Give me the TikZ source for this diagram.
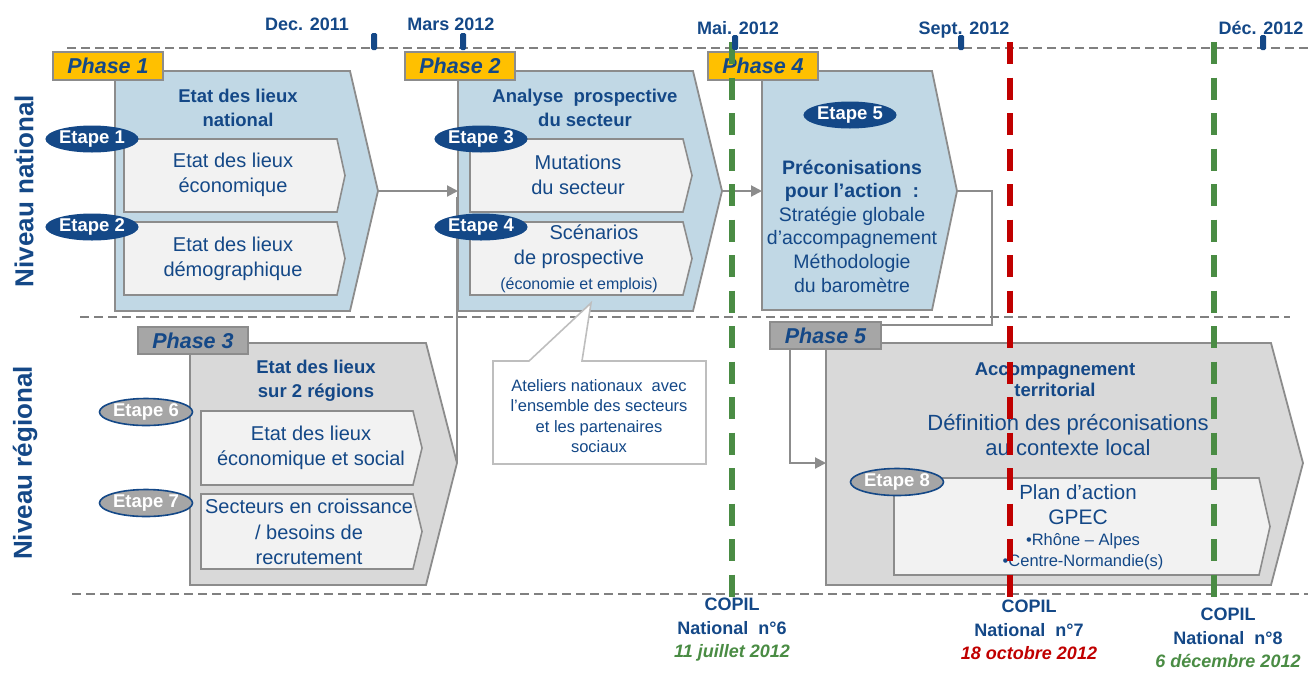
\documentclass[tikz,border=0pt]{standalone}
\usepackage{fontspec}
\setmainfont{Liberation Sans}
\usetikzlibrary{arrows.meta,shapes.geometric}
\definecolor{dblue}{RGB}{20,72,135}
\definecolor{lblue}{RGB}{193,216,229}
\definecolor{boxgray}{RGB}{242,242,242}
\definecolor{phgray}{RGB}{217,217,217}
\definecolor{tagyellow}{RGB}{255,192,0}
\definecolor{taggray}{RGB}{166,166,166}
\definecolor{edgegray}{RGB}{140,140,140}
\definecolor{dashgray}{RGB}{128,128,128}
\definecolor{callgray}{RGB}{190,190,190}
\definecolor{dgreen}{RGB}{74,140,68}
\definecolor{dred}{RGB}{192,0,0}
\newcommand\myfs[2]{\fontsize{#1}{#2}\selectfont}
\begin{document}
\begin{tikzpicture}[x=1pt,y=-1pt,
  shapeedge/.style={draw=edgegray, line width=1.8pt, line join=miter},
  natshape/.style={shapeedge, fill=lblue},
  regshape/.style={shapeedge, fill=phgray},
  subshape/.style={shapeedge, fill=boxgray, line width=1.6pt},
  tagbox/.style={draw=edgegray, line width=1.6pt, minimum width=110pt, minimum height=28pt, inner sep=0pt, text=dblue, font=\bfseries\itshape\myfs{21.5}{24}},
  ytag/.style={tagbox, fill=tagyellow},
  gtag/.style={tagbox, fill=taggray},
  etape/.style={ellipse, fill=dblue, minimum width=93pt, minimum height=27pt, inner sep=0pt, text=white, font=\bfseries\myfs{18.5}{20}},
  etapegray/.style={etape, fill=taggray, draw=dblue, line width=1.6pt},
  titletext/.style={text=dblue, font=\bfseries\myfs{18.5}{24}, align=center, inner sep=0pt},
  bodytext/.style={text=dblue, font=\myfs{20}{25.5}, align=center, inner sep=0pt},
  datetext/.style={text=dblue, font=\bfseries\myfs{18}{20}, text height=13pt, text depth=0pt, inner sep=0pt},
  copiltext/.style={text=dblue, font=\bfseries\myfs{18}{23.5}, align=center, inner sep=0pt},
  niveau/.style={text=dblue, font=\bfseries\myfs{26}{30}, rotate=90, inner sep=0pt},
  conn/.style={draw=edgegray, line width=2pt},
  arr/.style={conn, -{Triangle[length=11pt,width=11pt]}},
  hdash/.style={draw=dashgray, line width=2.3pt, dash pattern=on 9pt off 5pt},
  vgreen/.style={draw=dgreen, line width=6pt, dash pattern=on 22pt off 13.5pt},
  vred/.style={draw=dred, line width=6pt, dash pattern=on 22pt off 13.5pt},
  tickmark/.style={fill=dblue, rounded corners=1.5pt}
]
\useasboundingbox (0,0) rectangle (1308,673);

% coordinates
\coordinate (p1tip) at (378,191);
\coordinate (p2left) at (458,191);
\coordinate (p2join) at (457,197);
\coordinate (p2tip) at (722,191);
\coordinate (p3tip) at (457,463);
\coordinate (p4left) at (762,191);
\coordinate (p4tip) at (957,191);
\coordinate (c5) at (992,325);
\coordinate (ph5hook) at (882,325);
\coordinate (t5) at (790,349);
\coordinate (p5left) at (826,463);

% horizontal dashed lines
\draw[hdash] (67,48) -- (1308,48);
\draw[hdash] (80,317) -- (1290,317);
\draw[hdash] (72,594) -- (1308,594);

% level labels
\node[niveau] (nnat) at (24,191) {Niveau national};
\node[niveau] (nreg) at (25,463) {Niveau régional};

% dates
\node[datetext] (d1) at (307,24) {Dec. 2011};
\node[datetext] (d2) at (451,24) {Mars 2012};
\node[datetext] (d3) at (738,28) {Mai. 2012};
\node[datetext] (d4) at (964,28) {Sept. 2012};
\node[datetext] (d5) at (1261,28) {Déc. 2012};

% Phase 1
\draw[natshape] (115,71) -- (350,71) -- (p1tip) -- (350,311) -- (115,311) -- cycle;
\draw[subshape] (124,139) -- (337,139) -- (345,175.5) -- (337,212) -- (124,212) -- cycle;
\draw[subshape] (124,222) -- (337,222) -- (345,258.5) -- (337,295) -- (124,295) -- cycle;
\node[titletext] (t1) at (238,108) {Etat des lieux\\national};
\node[bodytext] (s1) at (233,175) {Etat des lieux\\économique};
\node[bodytext] (s2) at (233,259) {Etat des lieux\\démographique};

% Phase 2
\draw[natshape] (458,71) -- (693,71) -- (p2tip) -- (693,311) -- (458,311) -- cycle;
\draw[subshape] (470,139) -- (683,139) -- (692,175.5) -- (683,212) -- (470,212) -- cycle;
\draw[subshape] (470,222) -- (683,222) -- (692,258.5) -- (683,295) -- (470,295) -- cycle;
\node[titletext] (t2) at (585,108) {Analyse~ prospective\\du secteur};
\node[bodytext] (s3) at (578,175) {Mutations\\du secteur};
\node[bodytext, font=\myfs{20}{25}] (s4) at (579,259) {\hspace*{30pt}Scénarios\\de prospective\\{\myfs{16}{21}(économie et emplois)}};

% Phase 3
\draw[regshape] (190,343) -- (426,343) -- (p3tip) -- (426,585) -- (190,585) -- cycle;
\draw[subshape] (201,411) -- (413,411) -- (422,448) -- (413,485) -- (201,485) -- cycle;
\draw[subshape] (201,494) -- (413,494) -- (422,531.5) -- (413,569) -- (201,569) -- cycle;
\node[titletext] (t3) at (316,381) {Etat des lieux\\sur 2 régions};
\node[bodytext] (s6) at (311,448) {Etat des lieux\\économique et social};
\node[bodytext] (s7) at (309,532) {Secteurs en croissance\\/ besoins de\\recrutement};

% Phase 4
\draw[natshape] (762,71) -- (932,71) -- (p4tip) -- (932,310) -- (762,310) -- cycle;
\node[bodytext, font=\myfs{19.5}{23.6}] (s5) at (852,226) {{\bfseries Préconisations}\\{\bfseries pour l'action~ :}\\Stratégie globale\\d'accompagnement\\Méthodologie\\du baromètre};

% Phase 5
\draw[regshape] (826,343) -- (1271,343) -- (1303,463) -- (1271,585) -- (826,585) -- cycle;
\draw[subshape] (894,478) -- (1259,478) -- (1270,526.5) -- (1259,575) -- (894,575) -- cycle;
\node[titletext, font=\bfseries\myfs{18.5}{21}] (t5txt) at (1055,380) {Accompagnement\\territorial};
\node[bodytext, font=\myfs{22}{25}] (def5) at (1068,435) {Définition des préconisations\\au contexte local};
\node[bodytext, font=\myfs{20.5}{25}] (s8a) at (1078,505) {Plan d'action\\{\myfs{21}{25}GPEC}};
\node[bodytext, font=\myfs{16.5}{21}] (s8b) at (1083,551.5) {•Rhône – Alpes\\•Centre-Normandie(s)};

% callout
\draw[draw=callgray, line width=1.6pt, fill=white, line join=miter] (493,361) -- (529,361) -- (591,303) -- (582,361) -- (706,361) -- (706,464) -- (493,464) -- cycle;
\node[text=dblue, font=\myfs{16.5}{20.5}, align=center, inner sep=0pt] (atel) at (599,416) {Ateliers nationaux~ avec\\l’ensemble des secteurs\\et les partenaires\\sociaux};

% connectors
\draw[arr] (p1tip) -- (p2left);
\draw[conn] (p3tip) -- (p2join);
\draw[arr] (p2tip) -- (p4left);
\draw[conn] (p4tip) -| (c5) -- (ph5hook);
\draw[arr] (t5) |- (p5left);

% phase tags
\node[ytag] (ph1) at (108,66) {Phase 1};
\node[ytag] (ph2) at (460,66) {Phase 2};
\node[ytag] (ph4) at (763,66) {Phase 4};
\node[gtag, minimum height=27pt] (ph3) at (193,340.5) {Phase 3};
\node[gtag, minimum height=27pt, minimum width=111pt] (ph5) at (825.5,335.5) {Phase 5};

% etapes
\node[etape] (e1) at (92,139) {Etape 1};
\node[etape] (e2) at (92,227) {Etape 2};
\node[etape] (e3) at (481,139) {Etape 3};
\node[etape] (e4) at (481,227) {Etape 4};
\node[etape] (e5) at (850,115) {Etape 5};
\node[etapegray] (e6) at (146,412) {Etape 6};
\node[etapegray] (e7) at (146,503) {Etape 7};
\node[etapegray] (e8) at (897,482) {Etape 8};

% vertical COPIL lines
\draw[vgreen] (732,42) -- (732,597);
\draw[vred] (1010,42) -- (1010,597);
\draw[vgreen] (1214,42) -- (1214,597);

% ticks
\foreach \tx/\ty in {374/33, 463/33, 735/35, 961/35, 1263/35}
  \fill[tickmark] (\tx-3,\ty) rectangle (\tx+3,50);

% COPIL labels
\node[copiltext] (c6) at (732,630) {COPIL\\National~ n°6\\{\color{dgreen}\itshape 11 juillet 2012}};
\node[copiltext] (c7) at (1029,630) {COPIL\\National~ n°7\\{\color{dred}\itshape 18 octobre 2012}};
\node[copiltext] (c8) at (1228,638) {COPIL\\National~ n°8\\{\color{dgreen}\itshape 6 décembre 2012}};
\end{tikzpicture}
\end{document}
